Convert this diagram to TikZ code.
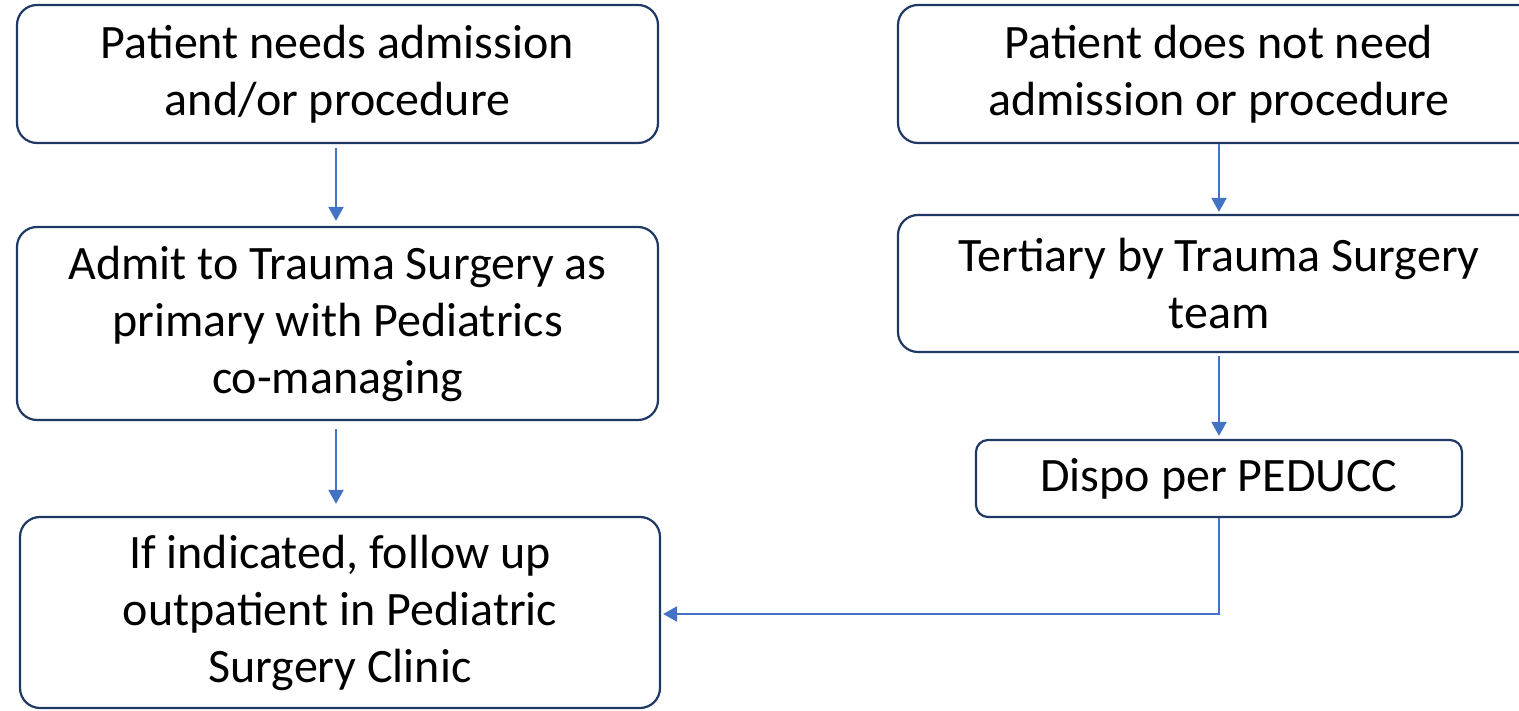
\documentclass[tikz,border=0pt]{standalone}
\usepackage{fontspec}
\setmainfont{Carlito}
\usetikzlibrary{arrows.meta}
\definecolor{boxline}{HTML}{1F3864}
\definecolor{arrblue}{HTML}{4472C4}
\tikzset{
  flowbox/.style={draw=boxline, line width=2.2pt, rounded corners=20pt, fill=white,
    align=center, inner sep=0pt, font=\fontsize{48}{57}\selectfont},
  arr/.style={draw=arrblue, line width=2.2pt, -{Triangle[width=15pt,length=14pt]}}
}
\begin{document}
\begin{tikzpicture}[x=1pt,y=1pt]
\useasboundingbox (0,0) rectangle (1519,711);
\node[flowbox, minimum width=641pt, minimum height=138pt] (b1) at (337.5,637) {Patient needs admission\\and/or procedure};
\node[flowbox, minimum width=641pt, minimum height=193pt] (b2) at (337.5,387.5) {Admit to Trauma Surgery as\\primary with Pediatrics\\co-managing};
\node[flowbox, minimum width=640pt, minimum height=191pt] (b3) at (340,98.5) {If indicated, follow up\\outpatient in Pediatric\\Surgery Clinic};
\node[flowbox, minimum width=642pt, minimum height=138pt] (b4) at (1219,637) {Patient does not need\\admission or procedure};
\node[flowbox, minimum width=642pt, minimum height=137pt] (b5) at (1219,427.5) {Tertiary by Trauma Surgery\\team};
\node[flowbox, minimum width=486pt, minimum height=77pt, rounded corners=12pt] (b6) at (1219,232.5) {Dispo per PEDUCC};
\coordinate (c1) at ([xshift=-1.5pt]b1.south);
\coordinate (c3) at ([xshift=-4pt]b3.north);
\draw[arr, shorten <=4pt, shorten >=5pt] (c1) -- (c1 |- b2.north);
\draw[arr, shorten <=8pt, shorten >=12pt] (c1 |- b2.south) -- (c3);
\draw[arr, shorten >=2pt] (b4.south) -- (b5.north);
\draw[arr, shorten <=3pt, shorten >=3pt] (b5.south) -- (b6.north);
\coordinate (bend) at (1219,97);
\draw[arr, shorten >=2pt] (b6.south) -- (bend) -- (bend -| b3.east);
\end{tikzpicture}
\end{document}
